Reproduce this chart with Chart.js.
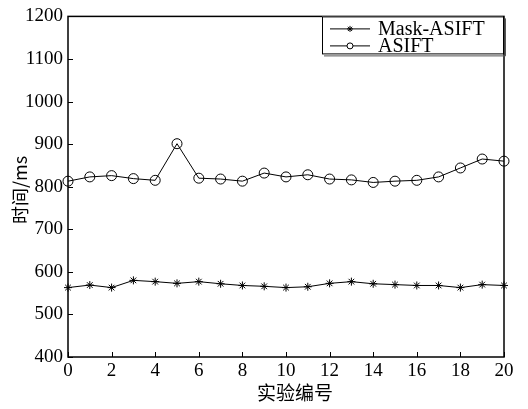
<!DOCTYPE html>
<html><head><meta charset="utf-8">
<script src="https://cdn.jsdelivr.net/npm/chart.js@4"></script>
<style>html,body{margin:0;padding:0;background:#fff}#wrap{width:528px;height:409px}</style>
</head><body><div id="wrap"><canvas id="c" width="528" height="409"></canvas></div>
<script>
const categories = [0,1,2,3,4,5,6,7,8,9,10,11,12,13,14,15,16,17,18,19,20];
const maskAsift = [563,569,563,580,577,573,577,572,568,566,563,565,573,577,572,570,568,568,563,570,568];
const asift = [813,823,826,819,815,901,820,818,813,832,823,828,818,816,810,813,815,823,844,865,860];
const xTicks = [0,2,4,6,8,10,12,14,16,18,20];
const yTicks = [400,500,600,700,800,900,1000,1100,1200];
const seriesNames = ['Mask-ASIFT','ASIFT'];
const xTitle = '实验编号';
const yTitle = '时间/ms';

const tickFont = {family:'"Liberation Serif", serif', size:19};
const legendFont = '20px "Liberation Serif", serif';
const cjkFont = '"Noto Sans CJK SC", sans-serif';

const decor = {
  id:'decor',
  afterDraw(chart){
    const ctx = chart.ctx, a = chart.chartArea;
    const xs = chart.scales.x, ys = chart.scales.y;
    ctx.save();
    // frame
    ctx.strokeStyle = '#000'; ctx.lineWidth = 1.5;
    ctx.strokeRect(a.left, a.top, a.right - a.left, a.bottom - a.top);
    // inward ticks
    ctx.lineWidth = 1;
    ctx.beginPath();
    xTicks.forEach(v => { const px = Math.round(xs.getPixelForValue(v)) + 0.5; ctx.moveTo(px, a.bottom); ctx.lineTo(px, a.bottom - 5); });
    yTicks.forEach(v => { const py = Math.round(ys.getPixelForValue(v)) + 0.5; ctx.moveTo(a.left, py); ctx.lineTo(a.left + 5, py); });
    ctx.stroke();
    // legend box
    const bx = 322, by = a.top, bw = 181, bh = 37;
    ctx.fillStyle = '#fff';
    ctx.fillRect(bx, by, bw, bh);
    ctx.strokeStyle = '#000'; ctx.lineWidth = 1;
    ctx.strokeRect(bx + 0.5, by + 0.5, bw, bh);
    ctx.strokeStyle = '#555';
    ctx.beginPath(); ctx.moveTo(bx + bw + 2.5, by + 2); ctx.lineTo(bx + bw + 2.5, by + bh + 2.5); ctx.lineTo(bx + 2, by + bh + 2.5); ctx.stroke();
    const rows = [by + 12, by + 29];
    chart.data.datasets.forEach((ds, i) => {
      const y = rows[i];
      ctx.strokeStyle = ds.borderColor; ctx.lineWidth = 1;
      ctx.beginPath(); ctx.moveTo(330, y + 0.5); ctx.lineTo(370, y + 0.5); ctx.stroke();
      ctx.fillStyle = '#fff'; ctx.strokeStyle = '#000';
      Chart.helpers.drawPoint(ctx, {pointStyle: ds.pointStyle, radius: 3, rotation: 0, borderWidth: 1}, 350, y + 0.5);
      ctx.fillStyle = '#000'; ctx.font = legendFont; ctx.textBaseline = 'middle'; ctx.textAlign = 'left';
      ctx.fillText(ds.label, 378, y + 1);
    });
    // axis titles
    ctx.fillStyle = '#000';
    ctx.font = '19px ' + cjkFont; ctx.textAlign = 'center'; ctx.textBaseline = 'middle';
    ctx.fillText(xTitle, 295, 393);
    ctx.translate(20, 190); ctx.rotate(-Math.PI / 2);
    ctx.font = '18px ' + cjkFont;
    ctx.fillText(yTitle, 0, 0);
    ctx.restore();
  }
};

new Chart(document.getElementById('c'), {
  type: 'line',
  data: {
    datasets: [
      { label: seriesNames[0], data: categories.map((c, i) => ({x: c, y: maskAsift[i]})),
        borderColor: '#000', backgroundColor: '#000', borderWidth: 1, pointStyle: 'star', pointRadius: 4,
        pointBorderWidth: 1, pointBorderColor: '#000', tension: 0, clip: false },
      { label: seriesNames[1], data: categories.map((c, i) => ({x: c, y: asift[i]})),
        borderColor: '#000', backgroundColor: 'rgba(0,0,0,0)', borderWidth: 1, pointStyle: 'circle', pointRadius: 5,
        pointBorderWidth: 1, pointBorderColor: '#000', pointBackgroundColor: 'rgba(0,0,0,0)', tension: 0, clip: false }
    ]
  },
  options: {
    responsive: false, animation: false, devicePixelRatio: 1,
    layout: { padding: { top: 14, right: 24, left: 0, bottom: 0 } },
    plugins: { legend: { display: false }, tooltip: { enabled: false } },
    scales: {
      x: { type: 'linear', min: 0, max: 20,
        afterBuildTicks: s => { s.ticks = xTicks.map(v => ({value: v})); },
        afterFit: s => { s.height = 52; },
        grid: { display: false, drawTicks: false }, border: { display: false },
        ticks: { font: tickFont, color: '#000', padding: 3, maxRotation: 0, autoSkip: false, callback: v => String(v) } },
      y: { type: 'linear', min: 400, max: 1200,
        afterBuildTicks: s => { s.ticks = yTicks.map(v => ({value: v})); },
        afterFit: s => { s.width = 68; },
        grid: { display: false, drawTicks: false }, border: { display: false },
        ticks: { font: tickFont, color: '#000', padding: 5, autoSkip: false, callback: v => String(v) } }
    }
  },
  plugins: [decor]
});
</script></body></html>
